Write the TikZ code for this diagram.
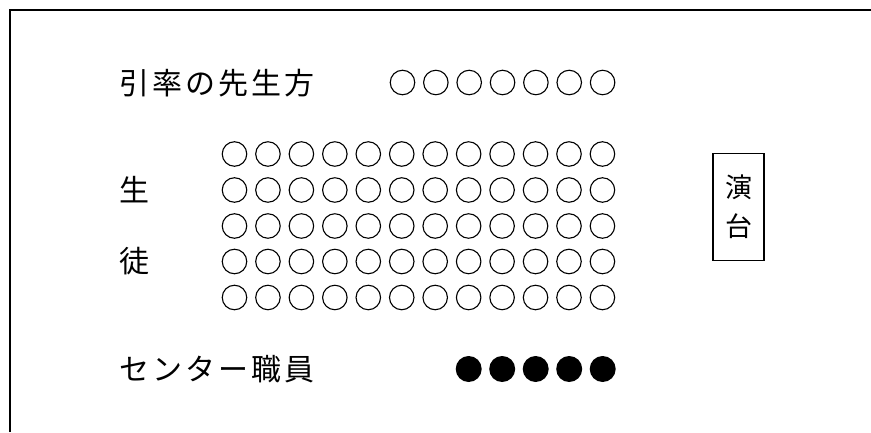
\documentclass[tikz,border=0pt]{standalone}
\usepackage{fontspec}
\newfontfamily\jp{Noto Sans CJK JP}
\newfontfamily\jpwide[LetterSpace=10]{Noto Sans CJK JP}
\begin{document}
\begin{tikzpicture}[x=1pt,y=1pt,
  seat/.style={circle,draw,line width=1.1pt,minimum size=24.5pt,inner sep=0pt},
  staff/.style={circle,fill=black,minimum size=26pt,inner sep=0pt},
  lbl/.style={inner sep=0pt,anchor=west,font=\jpwide\fontsize{30}{36}\selectfont},
  stage/.style={draw,line width=1.3pt,minimum width=51pt,minimum height=107pt,inner sep=0pt,align=center,font=\jp\fontsize{27}{39}\selectfont}]
\useasboundingbox (0,0) rectangle (871,432);
% frame (left and top edges)
\coordinate (fbl) at (9.5,0);
\coordinate (ftl) at (9.5,421.5);
\coordinate (ftr) at (871,421.5);
\draw[line width=2pt] (fbl) -- (ftl) -- (ftr);
% labels
\node[lbl] (teachers) at (119,349) {引率の先生方};
\node[lbl] (sei) at (119,242) {生};
\node[lbl] (to) at (119,171) {徒};
\node[lbl] (center) at (119,63) {センター職員};
% teachers' seats
\foreach \i in {0,...,6}
  \node[seat] (t\i) at ({402.5+33.35*\i},349.5) {};
% students' seats
\foreach \r/\y in {1/278,2/242,3/206,4/170.5,5/134.5}
  \foreach \c in {0,...,11}
    \node[seat] (s\r-\c) at ({234.5+33.45*\c},\y) {};
% staff
\foreach \i in {0,...,4}
  \node[staff] (c\i) at ({468.7+33.5*\i},63) {};
% stage
\node[stage] (podium) at (738.5,225) {演\\台};
\end{tikzpicture}
\end{document}
